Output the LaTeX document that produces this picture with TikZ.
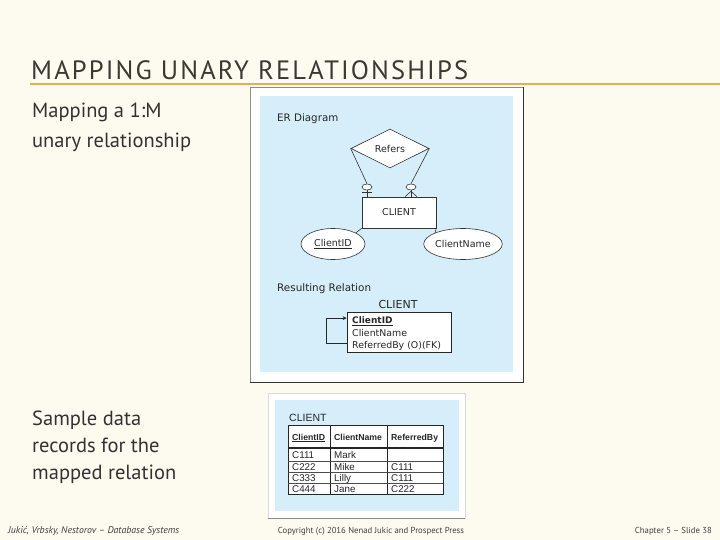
\documentclass[tikz,border=0pt]{standalone}
\usepackage{fontspec}
\setmainfont{PT Sans}
\newfontfamily\erfont{DejaVu Sans}
\newfontfamily\tabfont{Liberation Sans}
\usetikzlibrary{shapes.geometric,calc,arrows.meta}
\definecolor{bgcream}{RGB}{253,250,239}
\definecolor{panelblue}{RGB}{214,238,250}
\definecolor{titlecol}{RGB}{60,56,52}
\definecolor{goldline}{RGB}{222,176,90}
\definecolor{txtcol}{RGB}{50,50,50}
\tikzset{
  slidetext/.style={anchor=base west, inner sep=0pt, text=txtcol, font=\fontsize{20.5}{24}\selectfont},
  ertext/.style={inner sep=0pt, font=\erfont\fontsize{9.5}{11}\selectfont, text=black!85},
  erline/.style={draw=black!80, line width=0.6pt},
  tabtext/.style={anchor=base west, inner sep=0pt, font=\tabfont\fontsize{9.8}{11}\selectfont, text=black!85},
  foot/.style={anchor=base, inner sep=0pt, text=black!75, font=\fontsize{8.7}{10}\selectfont},
}
\begin{document}
\begin{tikzpicture}[x=1pt,y=-1pt]
\useasboundingbox (0,0) rectangle (720,540);
\fill[bgcream] (0,0) rectangle (720,540);

% title
\node[anchor=base west, inner sep=0pt, text=titlecol, font=\fontsize{26.5}{30}\selectfont\addfontfeatures{LetterSpace=8}] (title) at (31,80) {MAPPING UNARY RELATIONSHIPS};
\draw[goldline, line width=1.6pt] (30,84) -- (720,84);

% left texts
\node[slidetext] (t1) at (32,118) {Mapping a 1:M};
\node[slidetext] (t2) at (32,147.5) {unary relationship};
\node[slidetext] (s1) at (32,425) {Sample data};
\node[slidetext] (s2) at (32,452) {records for the};
\node[slidetext] (s3) at (32,479) {mapped relation};

% picture 1 frame
\draw[fill=white, draw=black!45, line width=0.6pt] (250,87) rectangle (523,382);
\draw[black!80, line width=0.8pt] (523,87) -- (523,382) -- (250,382);
\fill[panelblue] (260,96) rectangle (513,372);

\node[ertext, anchor=base west, font=\erfont\fontsize{10.3}{12}\selectfont] (erd) at (277,122) {ER Diagram};
\node[draw=black!80, line width=0.6pt, fill=white, shape=diamond, minimum width=78pt, minimum height=39pt, inner sep=0pt, ertext] (refers) at (390,148.5) {Refers};
\node[draw=black!80, line width=0.6pt, fill=white, minimum width=74pt, minimum height=31pt, inner sep=0pt, ertext] (client) at (399,212.5) {CLIENT};
\node[draw=black!80, line width=0.6pt, fill=white, ellipse, minimum width=10pt, minimum height=6pt, inner sep=0pt] (e1) at (367,187) {};
\node[draw=black!80, line width=0.6pt, fill=white, ellipse, minimum width=10pt, minimum height=6pt, inner sep=0pt] (e2) at (411,187) {};
\draw[erline] (refers.west) -- (e1.north);
\draw[erline] (refers.east) -- (e2.north);
\draw[erline] (e1.south) -- (e1.south |- client.north);
\draw[erline] ($(e1.south)+(-5,2.5)$) -- ($(e1.south)+(5,2.5)$);
\coordinate (cf) at ($(e2.south)+(0,1)$);
\draw[erline] (e2.south) -- (e2.south |- client.north);
\draw[erline] (cf) -- ($(e2.south |- client.north)+(-6,0)$);
\draw[erline] (cf) -- ($(e2.south |- client.north)+(6,0)$);

\node[draw=black!80, line width=0.6pt, fill=white, ellipse, minimum width=64pt, minimum height=31pt, inner sep=0pt, ertext] (cid) at (333,244) {\underline{ClientID}};
\node[draw=black!80, line width=0.6pt, fill=white, ellipse, minimum width=63pt, minimum height=31pt, inner sep=0pt, ertext] (cname) at (463,244) {ClientName};
\draw[erline] (client.south west) -- (cid.north east);
\draw[erline] (client.south east) -- (cname.north west);

\node[ertext, anchor=base west, font=\erfont\fontsize{10.4}{12}\selectfont] (resrel) at (277,291) {Resulting Relation};
\node[ertext, anchor=base, font=\erfont\fontsize{11}{12}\selectfont] (relname) at (398,308) {CLIENT};
\node[draw=black!85, line width=0.7pt, fill=white, minimum width=104pt, minimum height=40pt, inner sep=0pt] (rel) at (399,332) {};
\node[ertext, anchor=base west, font=\erfont\bfseries\fontsize{9}{10}\selectfont] (r1) at (352,323.5) {\underline{ClientID}};
\node[ertext, anchor=base west, font=\erfont\fontsize{9.4}{10}\selectfont] (r2) at (352,336) {ClientName};
\node[ertext, anchor=base west, font=\erfont\fontsize{9.4}{10}\selectfont] (r3) at (352,348.5) {ReferredBy (O)(FK)};
\draw[black!85, line width=0.7pt, -{Stealth[length=4pt,width=4pt]}] ($(r3.west -| rel.west)+(0,-3)$) -- ++(-20,0) |- ($(r1.west -| rel.west)+(0,-3)$);

% picture 2 frame
\draw[fill=white, draw=black!15, line width=0.5pt] (268,393) rectangle (465,518);
\draw[black!45, line width=0.7pt] (268,518) -- (465,518);
\fill[panelblue] (275,400) rectangle (459,511);

\node[tabtext, font=\tabfont\fontsize{10.5}{12}\selectfont] (tname) at (289,421.5) {CLIENT};
\node[draw=black!85, line width=0.7pt, fill=white, minimum width=155pt, minimum height=69pt, inner sep=0pt] (tbl) at (365.5,459.5) {};
\draw[black!85, line width=0.5pt] (330,425) -- (330,494);
\draw[black!85, line width=0.5pt] (387,425) -- (387,494);
\draw[black!85, line width=1.2pt] (288,448) -- (443,448);
\foreach \yy in {461,472,483} \draw[black!70, line width=0.4pt] (288,\yy) -- (443,\yy);
\node[tabtext, font=\tabfont\bfseries\fontsize{8.7}{10}\selectfont] (h1) at (292,440) {\underline{ClientID}};
\node[tabtext, font=\tabfont\bfseries\fontsize{8.7}{10}\selectfont] (h2) at (334,440) {ClientName};
\node[tabtext, font=\tabfont\bfseries\fontsize{8.7}{10}\selectfont] (h3) at (391,440) {ReferredBy};
\node[tabtext] (a1) at (292,458.5) {C111};
\node[tabtext] (b1) at (334,458.5) {Mark};
\node[tabtext] (a2) at (292,470) {C222};
\node[tabtext] (b2) at (334,470) {Mike};
\node[tabtext] (c2) at (391,470) {C111};
\node[tabtext] (a3) at (292,481) {C333};
\node[tabtext] (b3) at (334,481) {Lilly};
\node[tabtext] (c3) at (391,481) {C111};
\node[tabtext] (a4) at (292,492) {C444};
\node[tabtext] (b4) at (334,492) {Jane};
\node[tabtext] (c4) at (391,492) {C222};

% footer
\node[foot, anchor=base west, font=\itshape\fontsize{9.8}{11}\selectfont] (f1) at (8,533) {Jukić, Vrbsky, Nestorov – Database Systems};
\node[foot] (f2) at (371,533) {Copyright (c) 2016 Nenad Jukic and Prospect Press};
\node[foot, anchor=base east] (f3) at (712,533) {Chapter 5 – Slide 38};
\end{tikzpicture}
\end{document}
